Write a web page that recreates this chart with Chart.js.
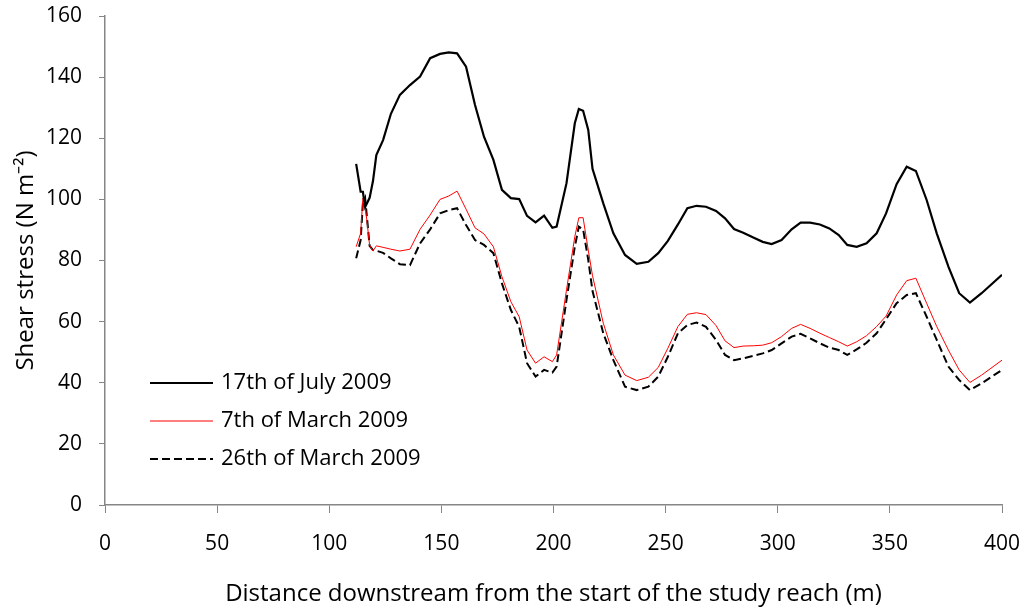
<!DOCTYPE html>
<html>
<head>
<meta charset="utf-8">
<script src="https://cdn.jsdelivr.net/npm/chart.js@4/dist/chart.umd.min.js"></script>
<style>
    html, body { margin: 0; padding: 0; background: #fff; }
</style>
</head>
<body>
<canvas id="shearChart" width="1025" height="609"></canvas>
<script>
// Distance downstream (m), shared by the three surveys
const distance = [
    112, 114, 115, 116, 118, 119.5, 121, 124, 127.5, 131.5,
    136, 140.5, 145, 149.4, 153.3, 157, 161, 165, 169, 173.2,
    177, 181, 184.7, 188.2, 192, 195.8, 199.5, 201.4, 205.8, 209.5,
    211.3, 213.2, 215.5, 217.4, 222.2, 226.7, 231.9, 237.1, 242.3, 246.7,
    251, 255.5, 259.7, 263.8, 268, 272.5, 276.5, 280.5, 284.6, 289.1,
    293.3, 297.3, 301.7, 306.2, 310.2, 314.4, 318.8, 323, 327.2, 331,
    335.2, 339.6, 344.1, 348.3, 353, 357.5, 361.6, 366.4, 370.9, 376.1,
    380.9, 385.7, 390.9, 400
];

// Shear stress (N m-2)
const july17 = [
    111.6, 102.5, 102.5, 97.5, 100.5, 106, 114.5, 119.4, 128, 134.2,
    137.4, 140.2, 146.2, 147.6, 148.1, 147.8, 143.4, 130.9, 120.5, 112.9,
    103.1, 100.4, 100.1, 94.6, 92.5, 94.7, 90.7, 91.1, 105.3, 124.9,
    129.6, 129, 122.7, 110, 98.7, 88.9, 81.8, 78.9, 79.6, 82.4,
    86.4, 91.8, 97.1, 97.9, 97.6, 96.2, 93.8, 90.3, 89.1, 87.5,
    86.1, 85.4, 86.7, 90.2, 92.4, 92.4, 91.8, 90.5, 88.3, 85.1,
    84.5, 85.6, 88.9, 95.4, 105, 110.7, 109.3, 99.8, 88.9, 78,
    69.3, 66.2, 69.3, 75.3
];

const march7 = [
    84.5, 88.9, 100.4, 98.2, 85, 83.1, 84.8, 84.3, 83.7, 83.1,
    83.7, 90.2, 94.9, 100, 101.1, 102.7, 96.8, 90.7, 88.7, 84.5,
    74.7, 66.5, 61.6, 50.7, 46.4, 48.5, 46.9, 49.1, 70.4, 87.8,
    94, 94, 83.4, 75, 59.5, 49.1, 42.5, 40.7, 41.8, 45,
    51.3, 58.4, 62.4, 62.9, 62.3, 58.7, 53.7, 51.5, 52, 52.1,
    52.3, 53.1, 55.1, 57.8, 59.1, 57.8, 56.2, 54.8, 53.4, 52,
    53.4, 55.4, 58.4, 61.8, 68.7, 73.4, 74.2, 66, 58.4, 50.7,
    44.2, 40.1, 42.5, 47.4
];

const march26 = [
    80.7, 86.7, 98.7, 100.5, 84.8, 83.4, 83.2, 82.5, 80.7, 78.8,
    78.5, 85.6, 90.2, 95.4, 96.5, 97.1, 91.6, 86.7, 85.1, 82.4,
    72.5, 63.8, 58.3, 46.4, 42, 44.2, 43.3, 45.3, 67.1, 84.5,
    91.1, 90.2, 80.2, 70, 56.2, 47.4, 38.7, 37.6, 38.7, 42,
    48.5, 56.2, 58.9, 59.7, 58.3, 54, 49.1, 47.4, 48, 48.8,
    49.6, 50.7, 52.9, 55.1, 56, 54.5, 52.9, 51.5, 50.7, 49.1,
    50.9, 53.1, 56.2, 60.8, 66, 68.7, 69.3, 61.6, 54, 45.3,
    40.9, 37.6, 39.8, 44.2
];

const seriesLabels = ["17th of July 2009", "7th of March 2009", "26th of March 2009"];

const FONT = "'Open Sans', sans-serif";
const AXIS_GREY = "#868686";

function toPoints(ys) {
    return distance.map((x, i) => ({ x: x, y: ys[i] }));
}

// fixed axis box so the plot area lands where the original's does
function fixBox(scale, size) {
    if (scale.isHorizontal()) scale.height = size;
    else scale.width = size;
    scale.paddingTop = 0;
    scale.paddingBottom = 0;
    scale.paddingLeft = 0;
    scale.paddingRight = 0;
}

// Legend drawn inside the plot, lower left
const insideLegend = {
    id: "insideLegend",
    afterDraw(chart) {
        const ctx = chart.ctx;
        const x0 = 150, x1 = 213, textX = 221;
        const rows = [383, 421, 459];
        ctx.save();
        ctx.font = "22px " + FONT;
        ctx.textBaseline = "middle";
        ctx.fillStyle = "#000";
        chart.data.datasets.forEach((ds, i) => {
            const y = rows[i];
            ctx.beginPath();
            ctx.strokeStyle = ds.borderColor;
            ctx.lineWidth = ds.borderWidth;
            ctx.setLineDash(ds.borderDash || []);
            ctx.moveTo(x0, y);
            ctx.lineTo(x1, y);
            ctx.stroke();
            ctx.setLineDash([]);
            ctx.fillText(ds.label, textX, y);
        });
        ctx.restore();
    }
};

new Chart(document.getElementById("shearChart"), {
    type: "line",
    data: {
        datasets: [
            {
                label: seriesLabels[0],
                data: toPoints(july17),
                borderColor: "#000000",
                borderWidth: 2.2,
                pointRadius: 0,
                tension: 0
            },
            {
                label: seriesLabels[1],
                data: toPoints(march7),
                borderColor: "#ff0000",
                borderWidth: 1,
                pointRadius: 0,
                tension: 0
            },
            {
                label: seriesLabels[2],
                data: toPoints(march26),
                borderColor: "#000000",
                borderWidth: 2,
                borderDash: [8, 4],
                pointRadius: 0,
                tension: 0
            }
        ]
    },
    options: {
        responsive: false,
        animation: false,
        devicePixelRatio: 1,
        layout: { padding: { top: 16, right: 23, left: 0, bottom: 0 } },
        plugins: {
            legend: { display: false },
            tooltip: { enabled: false }
        },
        scales: {
            x: {
                type: "linear",
                min: 0,
                max: 400,
                afterFit: scale => fixBox(scale, 104),
                ticks: {
                    stepSize: 50,
                    color: "#000",
                    font: { family: FONT, size: 21 },
                    padding: 18,
                    maxRotation: 0
                },
                grid: { drawOnChartArea: false, drawTicks: true, tickLength: 8, color: AXIS_GREY },
                border: { display: true, color: AXIS_GREY, width: 1.5 },
                title: {
                    display: true,
                    text: "Distance downstream from the start of the study reach (m)",
                    color: "#000",
                    font: { family: FONT, size: 24 },
                    padding: { top: 0, bottom: 0 }
                }
            },
            y: {
                min: 0,
                max: 160,
                afterFit: scale => fixBox(scale, 105),
                ticks: {
                    stepSize: 20,
                    color: "#000",
                    font: { family: FONT, size: 21 },
                    padding: 17
                },
                grid: { drawOnChartArea: false, drawTicks: true, tickLength: 6, color: AXIS_GREY },
                border: { display: true, color: AXIS_GREY, width: 1.5 },
                title: {
                    display: true,
                    text: "Shear stress (N m\u207B\u00B2)",
                    color: "#000",
                    font: { family: FONT, size: 24 },
                    padding: { top: 12, bottom: 0 }
                }
            }
        }
    },
    plugins: [insideLegend]
});
</script>
</body>
</html>
